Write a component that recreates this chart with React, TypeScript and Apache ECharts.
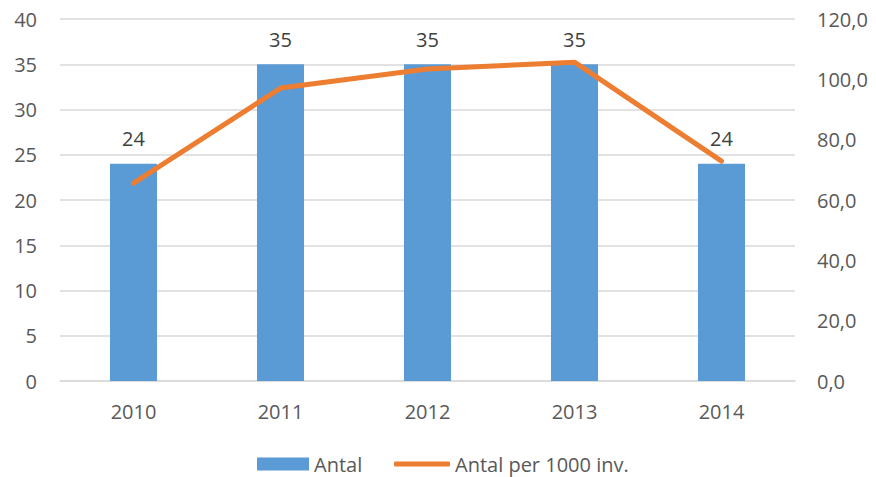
import React, { useEffect, useRef } from "react";
import * as echarts from "echarts";

const categories = ["2010", "2011", "2012", "2013", "2014"];
const antal = [24, 35, 35, 35, 24];
const antalPer1000 = [65.6, 97.1, 103.4, 105.7, 72.9];
const seriesNames = ["Antal", "Antal per 1000 inv."];

export default function App() {
  const ref = useRef<HTMLDivElement>(null);
  useEffect(() => {
    document.body.style.margin = "0";
    const chart = echarts.init(ref.current!, null, { renderer: "svg" });
    const font = "'Open Sans', 'Noto Sans', sans-serif";
    const fs = 20;
    chart.setOption({
      animation: false,
      textStyle: { fontFamily: font },
      grid: { left: 60, right: 81, top: 19, bottom: 96, containLabel: false },
      legend: [
        {
          left: 257,
          top: 454,
          padding: 0,
          itemWidth: 52,
          itemHeight: 13,
          textStyle: { fontSize: fs, color: "#595959", fontFamily: font, lineHeight: 18 },
          data: [{ name: seriesNames[0], icon: "rect" }],
        },
        {
          left: 394,
          top: 454,
          padding: 0,
          itemWidth: 56,
          itemHeight: 5,
          textStyle: { fontSize: fs, color: "#595959", fontFamily: font, lineHeight: 18 },
          data: [{ name: seriesNames[1], icon: "roundRect", itemStyle: { color: "#ED7D31" } }],
        },
      ],
      xAxis: {
        type: "category",
        data: categories,
        axisLine: { show: true, lineStyle: { color: "#d9d9d9", width: 1.5 } },
        axisTick: { show: false },
        axisLabel: { fontSize: fs, color: "#595959", margin: 20, fontFamily: font },
      },
      yAxis: [
        {
          type: "value",
          min: 0,
          max: 40,
          interval: 5,
          axisLine: { show: false },
          axisTick: { show: false },
          splitLine: { lineStyle: { color: "#d9d9d9", width: 1.5 } },
          axisLabel: { fontSize: fs, color: "#595959", margin: 23, fontFamily: font },
        },
        {
          type: "value",
          min: 0,
          max: 120,
          interval: 20,
          axisLine: { show: false },
          axisTick: { show: false },
          splitLine: { show: false },
          axisLabel: {
            fontSize: fs,
            color: "#595959",
            margin: 22,
            fontFamily: font,
            formatter: (v: number) => v.toFixed(1).replace(".", ","),
          },
        },
      ],
      series: [
        {
          name: seriesNames[0],
          type: "bar",
          data: antal,
          barWidth: "32%",
          itemStyle: { color: "#5B9BD5" },
          label: {
            show: true,
            position: "top",
            distance: 15,
            fontSize: fs,
            color: "#404040",
            fontFamily: font,
          },
        },
        {
          name: seriesNames[1],
          type: "line",
          yAxisIndex: 1,
          data: antalPer1000,
          showSymbol: false,
          symbol: "none",
          itemStyle: { color: "#ED7D31" },
          lineStyle: { color: "#ED7D31", width: 5, cap: "round", join: "round" },
        },
      ],
    });
    return () => chart.dispose();
  }, []);
  return <div ref={ref} style={{ width: 876, height: 477 }} />;
}
